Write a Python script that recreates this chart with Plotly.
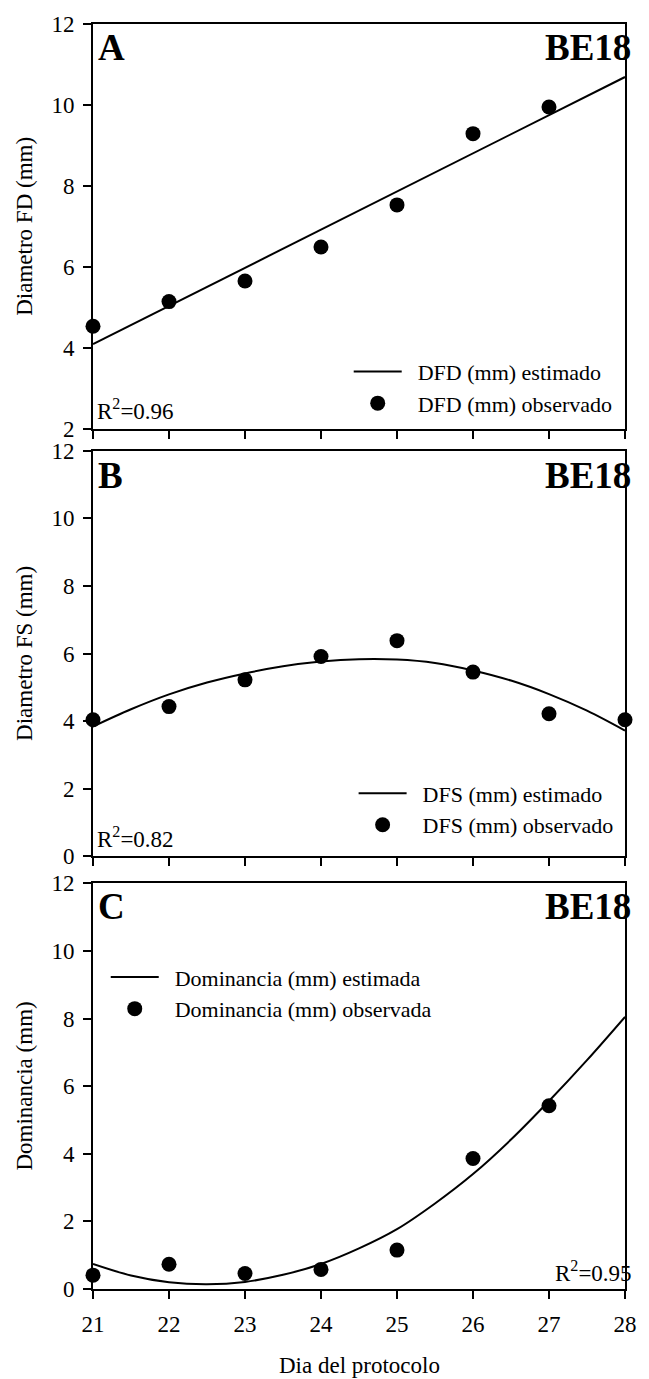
import plotly.graph_objects as go

# ---------------- data ----------------
days_obs = [21, 22, 23, 24, 25, 26, 27]
days_obs_b = [21, 22, 23, 24, 25, 26, 27, 28]
days_fit = [21, 21.5, 22, 22.5, 23, 23.5, 24, 24.5, 25, 25.5, 26, 26.5, 27, 27.5, 28]
days_line = [21, 28]

dfd_obs = [4.53, 5.14, 5.65, 6.49, 7.53, 9.29, 9.95]
dfd_est = [4.09, 10.69]

dfs_obs = [4.04, 4.43, 5.22, 5.91, 6.38, 5.45, 4.22, 4.04]
dfs_est = [3.84, 4.35, 4.79, 5.14, 5.41, 5.62, 5.76, 5.83, 5.82, 5.72, 5.50, 5.20, 4.80, 4.31, 3.72]

dom_obs = [0.41, 0.73, 0.46, 0.58, 1.15, 3.86, 5.42]
dom_est = [0.74, 0.40, 0.20, 0.14, 0.21, 0.42, 0.74, 1.20, 1.77, 2.53, 3.40, 4.42, 5.56, 6.77, 8.05]

x_ticks = [21, 22, 23, 24, 25, 26, 27, 28]

# ---------------- layout helpers ----------------
W, H = 649, 1379
L, R, T, B = 93, 636, 23, 1289


def px2x(px):
    return (px - L) / (R - L)


def py2y(py):
    return (B - py) / (B - T)


FONT = "Liberation Serif"
BLACK = "black"
GAP = "&nbsp;&nbsp;"
TXT = 23

fig = go.Figure()

# Panel A
fig.add_trace(go.Scatter(x=days_line, y=dfd_est, mode="lines", name=GAP + "DFD (mm) estimado",
                         line=dict(color=BLACK, width=2), xaxis="x", yaxis="y", legend="legend"))
fig.add_trace(go.Scatter(x=days_obs, y=dfd_obs, mode="markers", name=GAP + "DFD (mm) observado",
                         marker=dict(color=BLACK, size=15, line=dict(width=0)), xaxis="x", yaxis="y",
                         legend="legend", cliponaxis=False))
# Panel B
fig.add_trace(go.Scatter(x=days_fit, y=dfs_est, mode="lines", name=GAP + "DFS (mm) estimado",
                         line=dict(color=BLACK, width=2, shape="spline"), xaxis="x2", yaxis="y2",
                         legend="legend2"))
fig.add_trace(go.Scatter(x=days_obs_b, y=dfs_obs, mode="markers", name=GAP + "DFS (mm) observado",
                         marker=dict(color=BLACK, size=15, line=dict(width=0)), xaxis="x2", yaxis="y2",
                         legend="legend2", cliponaxis=False))
# Panel C
fig.add_trace(go.Scatter(x=days_fit, y=dom_est, mode="lines", name=GAP + "Dominancia (mm) estimada",
                         line=dict(color=BLACK, width=2, shape="spline"), xaxis="x3", yaxis="y3",
                         legend="legend3"))
fig.add_trace(go.Scatter(x=days_obs, y=dom_obs, mode="markers", name=GAP + "Dominancia (mm) observada",
                         marker=dict(color=BLACK, size=15, line=dict(width=0)), xaxis="x3", yaxis="y3",
                         legend="legend3", cliponaxis=False))

axis_common = dict(showline=True, linecolor=BLACK, linewidth=2, mirror=True, ticks="outside",
                   ticklen=8, tickwidth=2, tickcolor=BLACK, showgrid=False, zeroline=False,
                   tickfont=dict(family=FONT, size=TXT, color=BLACK))

doms = {
    "A": [py2y(428), 1.0],
    "B": [py2y(856), py2y(450)],
    "C": [0.0, py2y(883)],
}

xa = dict(axis_common, range=[21, 28], tickvals=x_ticks, domain=[0, 1])
fig.update_layout(
    xaxis=dict(xa, anchor="y", showticklabels=False),
    xaxis2=dict(xa, anchor="y2", showticklabels=False, matches="x"),
    xaxis3=dict(xa, anchor="y3", showticklabels=True, matches="x", ticklabelstandoff=5),
    yaxis=dict(axis_common, range=[2, 12], tickvals=[2, 4, 6, 8, 10, 12], domain=doms["A"], anchor="x",
               ticklabelstandoff=4),
    yaxis2=dict(axis_common, range=[0, 12], tickvals=[0, 2, 4, 6, 8, 10, 12], domain=doms["B"], anchor="x2",
                ticklabelstandoff=4),
    yaxis3=dict(axis_common, range=[0, 12], tickvals=[0, 2, 4, 6, 8, 10, 12], domain=doms["C"], anchor="x3",
                ticklabelstandoff=4),
)

leg_common = dict(font=dict(family=FONT, size=22, color=BLACK), bgcolor="rgba(0,0,0,0)",
                  borderwidth=0, xanchor="left", yanchor="top", itemwidth=48, tracegroupgap=0)
fig.update_layout(
    showlegend=True,
    legend=dict(leg_common, x=px2x(354), y=py2y(350)),
    legend2=dict(leg_common, x=px2x(359), y=py2y(772)),
    legend3=dict(leg_common, x=px2x(106), y=py2y(956)),
)

annots = []
# panel letters
for letter, top in [("A", 24), ("B", 452), ("C", 884)]:
    annots.append(dict(text="<b>%s</b>" % letter, x=px2x(96), y=py2y(top), xref="paper", yref="paper",
                       xanchor="left", yanchor="top", showarrow=False,
                       font=dict(family=FONT, size=37, color=BLACK)))
    annots.append(dict(text="<b>BE18</b>", x=px2x(644), y=py2y(top), xref="paper", yref="paper",
                       xanchor="right", yanchor="top", showarrow=False,
                       font=dict(family=FONT, size=37, color=BLACK)))
# R^2
annots.append(dict(text="R<sup>2</sup>=0.96", x=px2x(95), y=py2y(425), xref="paper", yref="paper",
                   xanchor="left", yanchor="bottom", showarrow=False,
                   font=dict(family=FONT, size=TXT, color=BLACK)))
annots.append(dict(text="R<sup>2</sup>=0.82", x=px2x(95), y=py2y(854), xref="paper", yref="paper",
                   xanchor="left", yanchor="bottom", showarrow=False,
                   font=dict(family=FONT, size=TXT, color=BLACK)))
annots.append(dict(text="R<sup>2</sup>=0.95", x=px2x(645), y=py2y(1288), xref="paper", yref="paper",
                   xanchor="right", yanchor="bottom", showarrow=False,
                   font=dict(family=FONT, size=TXT, color=BLACK)))
# y titles
for txt, c in [("Diametro FD (mm)", (23 + 428) / 2), ("Diametro FS (mm)", (450 + 856) / 2),
               ("Dominancia (mm)", (883 + 1289) / 2)]:
    annots.append(dict(text=txt, x=px2x(23), y=py2y(c), xref="paper", yref="paper", textangle=-90,
                       xanchor="center", yanchor="middle", showarrow=False,
                       font=dict(family=FONT, size=TXT, color=BLACK)))
# x title
annots.append(dict(text="Dia del protocolo", x=px2x(365), y=py2y(1366), xref="paper", yref="paper",
                   xanchor="center", yanchor="middle", showarrow=False,
                   font=dict(family=FONT, size=TXT, color=BLACK)))

fig.update_layout(
    annotations=annots,
    width=W, height=H,
    margin=dict(l=L, r=W - R, t=T, b=H - B, pad=0),
    paper_bgcolor="white", plot_bgcolor="white",
    font=dict(family=FONT, size=TXT, color=BLACK),
)

fig.write_html("out.html")
